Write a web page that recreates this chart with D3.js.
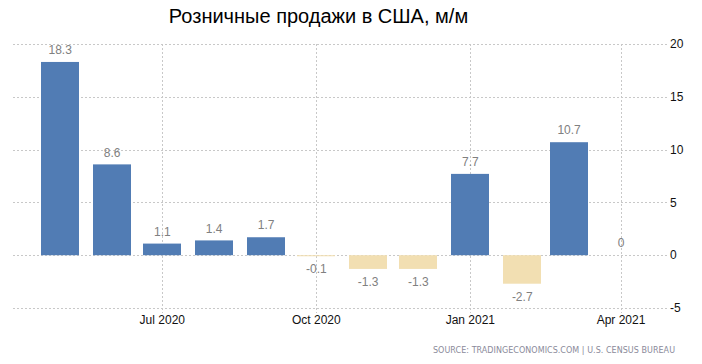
<!DOCTYPE html>
<html>
<head>
<meta charset="utf-8">
<script src="https://cdn.jsdelivr.net/npm/d3@7"></script>
<style>
  html, body { margin: 0; padding: 0; background: #fff; }
  svg { display: block; }
</style>
</head>
<body>
<svg id="chart" width="702" height="364"></svg>
<script>
// ---- data ----
const months = ["2020-05", "2020-06", "2020-07", "2020-08", "2020-09", "2020-10",
                "2020-11", "2020-12", "2021-01", "2021-02", "2021-03", "2021-04"];
const values = [18.3, 8.6, 1.1, 1.4, 1.7, -0.1, -1.3, -1.3, 7.7, -2.7, 10.7, 0];
const xTickMonths = ["2020-07", "2020-10", "2021-01", "2021-04"];
const xTickLabels = ["Jul 2020", "Oct 2020", "Jan 2021", "Apr 2021"];
const yTicks = [-5, 0, 5, 10, 15, 20];
const title = "Розничные продажи в США, м/м";
const source = "SOURCE: TRADINGECONOMICS.COM | U.S. CENSUS BUREAU";

// ---- layout ----
const W = 702, H = 364;
const gridLeft = 13, gridRight = 668;
const parse = d3.timeParse("%Y-%m");
const svg = d3.select("#chart");

const x = d3.scaleTime()
  .domain([parse("2020-07"), parse("2021-04")])
  .range([162.3, 621]);
const y = d3.scaleLinear().domain([-5, 20]).range([308, 44]);
const barW = 38;

// horizontal grid
svg.append("g").selectAll("line").data(yTicks).join("line")
  .attr("x1", gridLeft).attr("x2", gridRight)
  .attr("y1", d => Math.round(y(d)) + 0.5).attr("y2", d => Math.round(y(d)) + 0.5)
  .attr("stroke", "#c8c8c8").attr("stroke-width", 1).attr("stroke-dasharray", "2,2");

// vertical grid at ticks
svg.append("g").selectAll("line").data(xTickMonths).join("line")
  .attr("x1", d => Math.round(x(parse(d))) + 0.5).attr("x2", d => Math.round(x(parse(d))) + 0.5)
  .attr("y1", y(20)).attr("y2", y(-5) + 5)
  .attr("stroke", "#c8c8c8").attr("stroke-width", 1).attr("stroke-dasharray", "2,2");

// bars
svg.append("g").selectAll("rect").data(values).join("rect")
  .attr("x", (d, i) => Math.round(x(parse(months[i])) - barW / 2))
  .attr("width", barW)
  .attr("y", d => y(Math.max(0, d)))
  .attr("height", d => Math.abs(y(d) - y(0)))
  .attr("fill", d => d >= 0 ? "#517cb4" : "#f2dfb2");

// value labels
svg.append("g").selectAll("text").data(values).join("text")
  .attr("x", (d, i) => x(parse(months[i])))
  .attr("y", d => d >= 0 ? y(d) - 12 : y(d) + 13)
  .attr("dy", "0.35em")
  .attr("text-anchor", "middle")
  .attr("font-family", "Liberation Sans, Arial, sans-serif")
  .attr("font-size", 12)
  .attr("fill", "#808080")
  .text(d => d);

// y axis labels (right)
svg.append("g").selectAll("text").data(yTicks).join("text")
  .attr("x", 670).attr("y", d => y(d))
  .attr("dy", "0.35em")
  .attr("font-family", "Liberation Sans, Arial, sans-serif")
  .attr("font-size", 12)
  .attr("fill", "#111")
  .text(d => d);

// x axis labels
svg.append("g").selectAll("text").data(xTickMonths).join("text")
  .attr("x", d => x(parse(d)))
  .attr("y", 320)
  .attr("dy", "0.35em")
  .attr("text-anchor", "middle")
  .attr("font-family", "Liberation Sans, Arial, sans-serif")
  .attr("font-size", 12)
  .attr("fill", "#111")
  .text((d, i) => xTickLabels[i]);

// title
svg.append("text")
  .attr("x", 318.5).attr("y", 23)
  .attr("text-anchor", "middle")
  .attr("font-family", "Liberation Sans, Arial, sans-serif")
  .attr("font-size", 20)
  .attr("fill", "#000")
  .text(title);

// source
svg.append("text")
  .attr("x", 433).attr("y", 353)
  .attr("font-family", "DejaVu Sans, sans-serif")
  .attr("font-size", 8)
  .attr("fill", "#8a8a9a")
  .attr("textLength", 242)
  .attr("lengthAdjust", "spacing")
  .text(source);
</script>
</body>
</html>
